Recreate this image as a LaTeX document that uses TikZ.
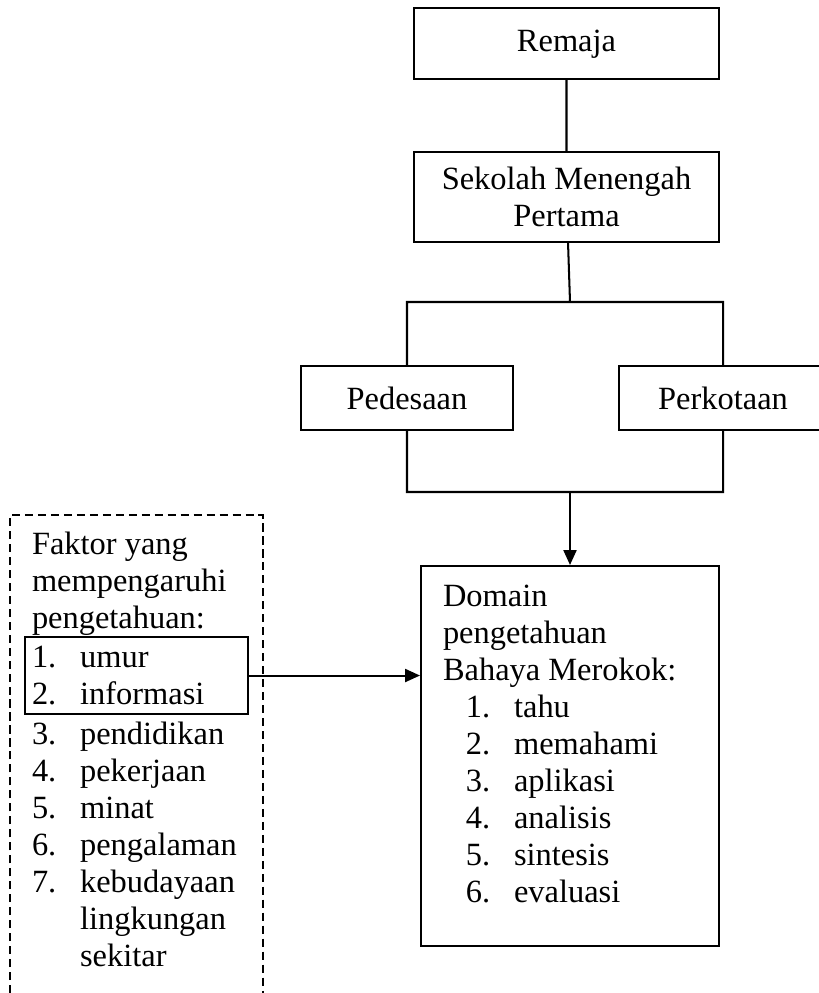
\documentclass[tikz,border=0pt]{standalone}
\usepackage{fontspec}
\setmainfont{Liberation Serif}
\usetikzlibrary{arrows.meta}
\newcommand{\pxu}{0.37pt}
\newcommand{\itemno}[1]{\makebox[17.8pt][l]{#1}}
\tikzset{>={Triangle[length=5.5pt,width=4.8pt]}, % filled arrow heads
every node/.style={font=\fontsize{12pt}{13.7pt}\selectfont}, % Times sized text
box/.style={draw, rectangle, inner sep=0pt, align=center}, % the framed boxes
textblock/.style={anchor=north west, inner sep=0pt, align=left}, % loose text
}

\begin{document}
\begin{tikzpicture}[x=0.37pt, y=-0.37pt, line width=0.75pt]
  \useasboundingbox (0,0) rectangle (819,993);
  \clip (0,0) rectangle (819,993); % the Perkotaan box runs off the page
  \node[box, minimum width=305*\pxu, minimum height=71*\pxu, text depth=2pt] (remaja) at (566.5,43.5) {Remaja};
  \node[box, minimum width=305*\pxu, minimum height=90*\pxu] (smp) at (566.5,197) {Sekolah Menengah\\Pertama};
  \node[box, minimum width=212*\pxu, minimum height=64*\pxu] (desa) at (407,398) {Pedesaan};
  \node[box, minimum width=208*\pxu, minimum height=64*\pxu] (kota) at (723,398) {Perkotaan};
  \node[box, minimum width=298*\pxu, minimum height=380*\pxu] (domain) at (570,756) {};
  \node[textblock] (domaintext) at (442,584) {Domain\\pengetahuan\\Bahaya Merokok:\\
    \hspace*{8.5pt}\itemno{1.}tahu\\
    \hspace*{8.5pt}\itemno{2.}memahami\\
    \hspace*{8.5pt}\itemno{3.}aplikasi\\
    \hspace*{8.5pt}\itemno{4.}analisis\\
    \hspace*{8.5pt}\itemno{5.}sintesis\\
    \hspace*{8.5pt}\itemno{6.}evaluasi};
  \coordinate (split) at (570,302);
  \coordinate (merge) at (570,492);

  \draw (remaja) -- (smp)
        (smp) -- (split)
        (desa.north) |- (split) -| (kota.north)
        (desa.south) |- (merge) -| (kota.south);
  \draw[->] (merge) -- (domain);

  % factors on the left
  \draw[dash pattern=on 3pt off 1.8pt] (10,993) |- (263,515) -- (263,993);
  \node[textblock] (faktor) at (31,531) {Faktor yang\\mempengaruhi\\pengetahuan:};
  \node[box, anchor=north west, minimum width=223*\pxu, minimum height=77*\pxu,
        text width=209*\pxu, align=left, inner sep=7*\pxu] (utama) at (24,636)
        {\itemno{1.}umur\\\itemno{2.}informasi};
  \node[textblock] (lainnya) at (31,721) {\itemno{3.}pendidikan\\
    \itemno{4.}pekerjaan\\
    \itemno{5.}minat\\
    \itemno{6.}pengalaman\\
    \itemno{7.}kebudayaan\\
    \hspace*{17.8pt}lingkungan\\
    \hspace*{17.8pt}sekitar};
  \draw[->] (utama) -- (utama -| domain.west);
\end{tikzpicture}
\end{document}
